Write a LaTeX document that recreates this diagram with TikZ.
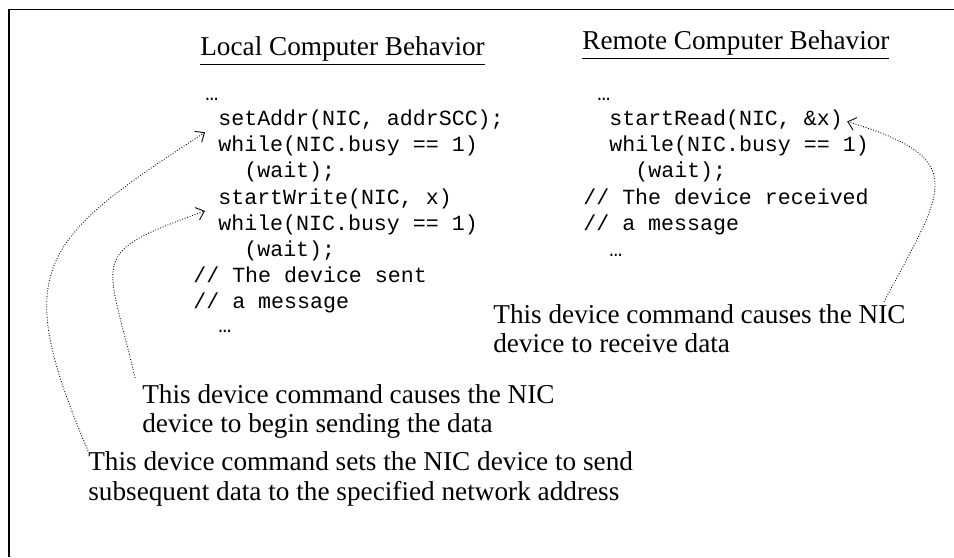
\documentclass[tikz,border=0pt]{standalone}
\usepackage{fontspec}
\setmainfont{Liberation Serif}
\setmonofont{Liberation Mono}
\usetikzlibrary{arrows.meta}

\newcommand{\notefont}{\fontsize{15.5}{17}\selectfont}
\newcommand{\codefont}{\fontsize{12.3}{14.6}\selectfont\ttfamily}

\tikzset{
  heading/.style={font=\notefont, anchor=base west, inner sep=0pt},
  codeline/.style={font=\codefont, anchor=base west, inner sep=0pt},
  note/.style={font=\notefont, align=left, anchor=base west, inner sep=0pt},
  callout/.style={densely dotted, line width=0.5pt,
    -{Straight Barb[length=1.5mm,width=2.6mm]}}
}

\begin{document}
\begin{tikzpicture}
			\useasboundingbox (0,0) rectangle (19.08,11.14);

			% Frame
			\draw[line width=1.1pt] (0.18,0) -- (0.18,10.95) -- (19.08,10.95);

			% Headings
			\node[heading] (localhd) at (4.00,10.02) {\underline{Local Computer Behavior}};
			\node[heading] (remotehd) at (11.64,10.14) {\underline{Remote Computer Behavior}};

			% Local code
			\node[codeline] (ldots1) at (4.10,9.13) {…};
			\node[codeline] (setaddr) at (4.36,8.63) {setAddr(NIC, addrSCC);};
			\node[codeline] (lwhile1) at (4.36,8.106) {while(NIC.busy == 1)};
			\node[codeline] (lwait1) at (4.88,7.582) {(wait);};
			\node[codeline] (startwrite) at (4.36,7.058) {startWrite(NIC, x)};
			\node[codeline] (lwhile2) at (4.36,6.534) {while(NIC.busy == 1)};
			\node[codeline] (lwait2) at (4.88,6.01) {(wait);};
			\node[codeline] (lsent1) at (3.86,5.486) {// The device sent};
			\node[codeline] (lsent2) at (3.86,4.962) {// a message};
			\node[codeline] (ldots2) at (4.36,4.48) {…};

			% Remote code
			\node[codeline] (rdots1) at (11.94,9.13) {…};
			\node[codeline] (rdstart) at (12.18,8.63) {startRead(NIC, \&x)};
			\node[codeline] (rwhile) at (12.18,8.106) {while(NIC.busy == 1)};
			\node[codeline] (rwait) at (12.70,7.582) {(wait);};
			\node[codeline] (rrecv1) at (11.66,7.058) {// The device received};
			\node[codeline] (rrecv2) at (11.66,6.534) {// a message};
			\node[codeline] (rdots2) at (12.18,6.01) {…};

			% Notes
			\node[note] (rcvlbl) at (9.86,4.08) {This device command causes the NIC\\device to receive data};
			\node[note] (sendlbl) at (2.84,2.48) {This device command causes the NIC\\device to begin sending the data};
			\node[note] (setlbl) at (1.76,1.14) {This device command sets the NIC device to send\\subsequent data to the specified network address};

			% Callouts
			\draw[callout] (setlbl.north west) to[out=113,in=213,looseness=1.5] ([xshift=-0.26cm,yshift=-0.04cm]setaddr.south west);
			\draw[callout] ([xshift=-0.14cm,yshift=0.12cm]sendlbl.north west) to[out=103,in=200,looseness=1.8] ([xshift=-0.26cm,yshift=-0.04cm]startwrite.south west);
			\draw[callout] ([xshift=-0.44cm,yshift=0.04cm]rcvlbl.north east) to[out=62,in=-17,looseness=1.8] ([xshift=0.08cm,yshift=0.08cm]rdstart.base east);
		\end{tikzpicture}
\end{document}
